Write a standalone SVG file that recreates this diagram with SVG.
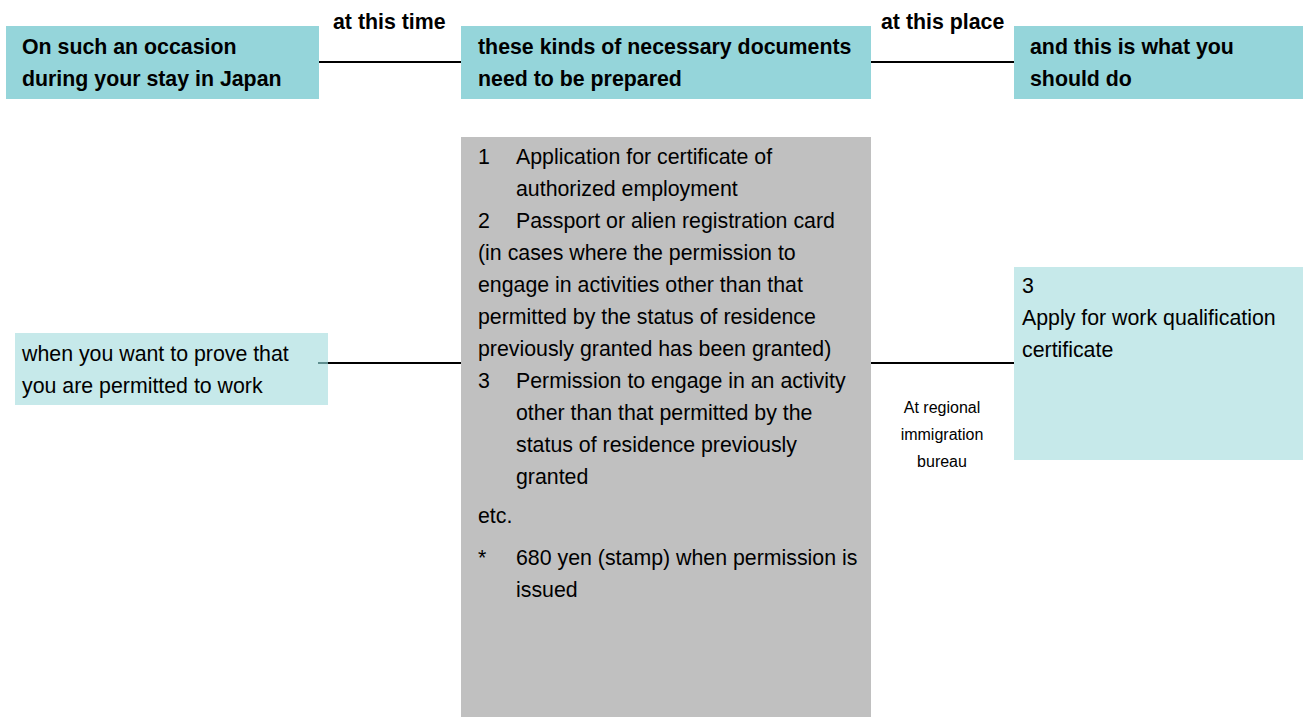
<svg xmlns="http://www.w3.org/2000/svg" width="1303" height="717" viewBox="0 0 1303 717">
<style>
text{font-family:"Liberation Sans",Arial,sans-serif;fill:#000}
.h{font-size:21.33px;font-weight:bold}
.t{font-size:21.33px}
.s{font-size:16px;text-anchor:middle}
.hdr{fill:#95D5DA}
.lt{fill:#C6E9EA}
.conn{stroke:#000;stroke-width:2;fill:none}
</style>
<rect width="1303" height="717" fill="#fff"/>
<g id="connectors">
<line class="conn" x1="318" y1="62" x2="461" y2="62"/>
<line class="conn" x1="871" y1="62" x2="1014" y2="62"/>
<line class="conn" x1="328" y1="363" x2="461" y2="363"/>
<line class="conn" x1="871" y1="363" x2="1014" y2="363"/>
<text class="h" x="333" y="29">at this time</text>
<text class="h" x="881" y="29">at this place</text>
<text class="s" x="942" y="413">At regional</text>
<text class="s" x="942" y="440">immigration</text>
<text class="s" x="942" y="467">bureau</text>
</g>
<g id="h1">
<rect class="hdr" x="6" y="26" width="313" height="73"/>
<text class="h" x="22" y="54">On such an occasion</text>
<text class="h" x="22" y="86">during your stay in Japan</text>
</g>
<g id="h2">
<rect class="hdr" x="461" y="26" width="410" height="73"/>
<text class="h" x="478" y="54">these kinds of necessary documents</text>
<text class="h" x="478" y="86">need to be prepared</text>
</g>
<g id="h3">
<rect class="hdr" x="1014" y="26" width="289" height="73"/>
<text class="h" x="1030" y="54">and this is what you</text>
<text class="h" x="1030" y="86">should do</text>
</g>
<g id="occasion">
<rect class="lt" x="15" y="333" width="313" height="72"/>
<line x1="318" y1="363" x2="328" y2="363" stroke="#5F8F90" stroke-width="2"/>
<text class="t" x="22" y="361">when you want to prove that</text>
<text class="t" x="22" y="393">you are permitted to work</text>
</g>
<g id="documents">
<rect x="461" y="137" width="410" height="580" fill="#C0C0C0"/>
<text class="t" x="478" y="164">1</text>
<text class="t" x="516" y="164">Application for certificate of</text>
<text class="t" x="516" y="196">authorized employment</text>
<text class="t" x="478" y="228">2</text>
<text class="t" x="516" y="228">Passport or alien registration card</text>
<text class="t" x="478" y="260">(in cases where the permission to</text>
<text class="t" x="478" y="292">engage in activities other than that</text>
<text class="t" x="478" y="324">permitted by the status of residence</text>
<text class="t" x="478" y="356">previously granted has been granted)</text>
<text class="t" x="478" y="388">3</text>
<text class="t" x="516" y="388">Permission to engage in an activity</text>
<text class="t" x="516" y="420">other than that permitted by the</text>
<text class="t" x="516" y="452">status of residence previously</text>
<text class="t" x="516" y="484">granted</text>
<text class="t" x="478" y="523">etc.</text>
<text class="t" x="478" y="565">*</text>
<text class="t" x="516" y="565">680 yen (stamp) when permission is</text>
<text class="t" x="516" y="597">issued</text>
</g>
<g id="action">
<rect class="lt" x="1014" y="267" width="289" height="193"/>
<text class="t" x="1022" y="293">3</text>
<text class="t" x="1022" y="325">Apply for work qualification</text>
<text class="t" x="1022" y="357">certificate</text>
</g>
</svg>
